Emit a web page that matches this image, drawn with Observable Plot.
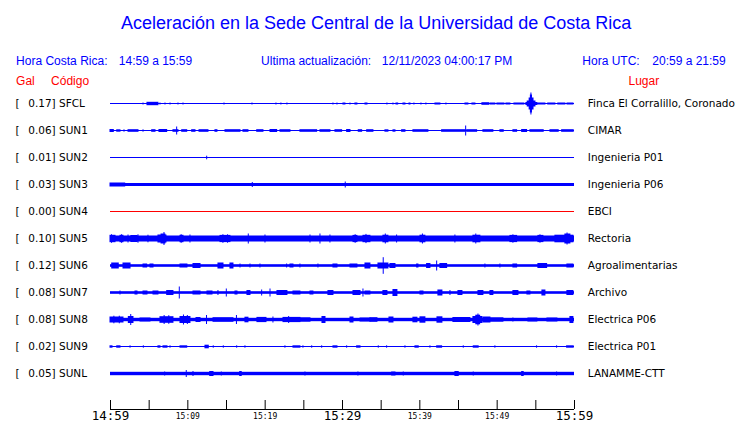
<!DOCTYPE html>
<html><head><meta charset="utf-8">
<script src="https://cdn.jsdelivr.net/npm/d3@7"></script>
<script src="https://cdn.jsdelivr.net/npm/@observablehq/plot@0.6"></script>
<style>body{margin:0;background:#fff} #chart svg{display:block}</style>
</head><body><div id="chart"></div>
<script>
// ---- header texts ----
const titleText = "Aceleración en la Sede Central de la Universidad de Costa Rica";
const localLabel = "Hora Costa Rica:";
const localRange = "14:59 a 15:59";
const updateLabel = "Ultima actualización:";
const updateValue = "12/11/2023 04:00:17 PM";
const utcLabel = "Hora UTC:";
const utcRange = "20:59 a 21:59";
const headGal = "Gal", headCode = "Código", headPlace = "Lugar";

// ---- stations ----
const stations = ["SFCL","SUN1","SUN2","SUN3","SUN4","SUN5","SUN6","SUN7","SUN8","SUN9","SUNL"];
const peakGal  = [0.17, 0.06, 0.01, 0.03, 0.00, 0.10, 0.12, 0.08, 0.08, 0.02, 0.05];
const places = ["Finca El Corralillo, Coronado","CIMAR","Ingenieria P01","Ingenieria P06","EBCI",
  "Rectoria","Agroalimentarias","Archivo","Electrica P06","Electrica P01","LANAMME-CTT"];
const offline = ["SUN4"];
// continuous background noise half-amplitude (amplitude units)
const noiseLevel = [0, 0, 0, 1.5, 0, 3, 1.3, 1.3, 1.7, 0, 1.7];

// ---- time axis (minutes after 14:59) ----
const timeSpan = [0, 60];
const tickMinutes = [0,5,10,15,20,25,30,35,40,45,50,55,60];
const majorTicks = [0, 30, 60];
const majorLabels = ["14:59","15:29","15:59"];
const minorTicks = [10, 20, 40, 50];
const minorLabels = ["15:09","15:19","15:39","15:49"];

// ---- bursts: [minute, amp] or [startMinute, endMinute, amp] ----
const burstsSFCL = [[4.27,1],[4.78,6.2,1.7],[6.46,1],[7.11,1],[7.76,1],[8.79,1],[9.44,1],[14.74,1],[18.36,1],
  [21.46,1],[22.1,1],[22.88,1],[28.83,1],[29.35,1],[30.12,30.38,1],[31.03,1],[31.67,31.93,1],[32.97,33.23,1],
  [35.81,1],[36.59,1],[36.98,37.2,1],[37.88,38.14,1],[38.66,38.79,1],[39.3,1],[40.21,1],[40.85,1],[42.02,42.66,1],
  [43.44,1],[45.9,46.28,1],[46.8,47.19,1],[48.09,49.0,1.3],[49.2,49.77,1],[50.03,50.94,1],[51.2,51.71,1],
  [52.23,53.52,1],[53.78,55.2,1.5],[53.95,54.95,3],[54.2,54.7,6],[54.36,54.5,9],[54.43,11],
  [55.3,56.24,1],[56.6,57.53,1],[57.9,58.82,1],[59.1,59.86,1]];
const burstsSUN1 = [[0,0.43,1.5],[0.87,1.29,1.2],[1.81,1.2],[2.33,3.62,1.3],[4.27,1.2],[5.39,5.82,1.3],[6.33,7.33,1.5],
  [8.14,8.79,1.3],[8.62,4],[9.27,9.92,1.3],[10.56,10.99,1.3],[11.51,12.67,1.3],[13.57,13.83,1.3],[14.87,16.81,1.3],
  [17.19,17.84,1.3],[18.97,19.78,1.3],[20.69,21.55,1.5],[21.98,23.27,1.3],[24.56,26.72,1.3],[27.15,28.44,1.3],
  [29.09,29.95,1.3],[30.6,31.03,1.5],[32.1,32.54,1.3],[33.19,34.0,1.3],[35.55,35.94,1.2],[36.59,36.85,1.2],
  [37.71,38.14,1.3],[39.17,41.11,1.3],[42.88,45.9,1.3],[45.99,5],[46.12,47.41,1.3],[48.22,49.51,1.3],
  [50.42,50.85,1.3],[52.1,52.58,1.3],[53.23,53.87,1.5],[54.3,56.02,1.3],[56.89,57.96,1.3],[58.4,59.9,1.3]];
const burstsSUN2 = [[12.5,1.8]];
const burstsSUN3 = [[0,1.9,2],[18.4,2.5],[30.42,3]];
const burstsSUN4 = [];
const burstsSUN5 = [[0,0.65,3.7],[0.2,4.3],[1.29,1.68,3.7],[1.5,4.3],[2.33,4],[2.7,3.5,3.5],[3.62,4.2],[4.91,3.8],
  [6.2,7.24,4],[6.6,7.1,5],[6.98,6.5],[9.05,9.44,3.7],[9.2,4.3],[10.34,4],[14.22,15.51,3.6],[14.6,4.3],[15.2,4.2],
  [17.88,5],[20.04,4],[25.86,4],[27.15,5],[28.44,4],[31.42,31.93,3.6],[31.7,4.3],[32.71,33.61,3.7],[33.1,4.6],
  [35.29,35.94,3.8],[35.6,5],[37.06,4],[40.08,40.72,3.8],[40.4,5],[44.6,4],[46.93,47.83,3.8],[47.3,5],
  [51.71,52.58,3.6],[52.1,4.2],[55.33,55.98,3.6],[55.6,4.2],[57.53,59.86,3.8],[58.82,59.47,5],[59.1,6]];
const burstsSUN6 = [[0.22,1.07,3],[1.68,2.59,3],[4.27,4.74,2],[5.17,5.56,2],[9.05,9.95,2],[10.73,11.64,2.5],
  [13.96,14.61,3],[15.51,15.9,3],[16.81,2],[18.1,2],[19.39,2],[22.84,2],[23.27,23.66,2],[24.56,2],[26.89,2],
  [28.83,29.35,2],[31.03,31.93,2],[32.97,33.61,3],[34.65,35.94,3],[35.33,8.3],[36.2,36.85,2.5],[39.65,39.82,2],
  [40.94,41.37,2.5],[42.24,5],[42.66,43.53,2.5],[48.48,2],[50.42,2],[52.1,52.58,2],[55.33,56.46,2.5],[59.08,59.86,2]];
const burstsSUN7 = [[1.29,2],[3.23,3.49,2],[4.27,4.78,2],[5.56,6.2,2],[7.33,8.14,2.5],[8.96,6],[10.73,11.64,2],
  [12.54,13.19,2],[13.96,2.5],[15.04,4],[16.16,16.42,2],[17.71,18.1,2.5],[19.61,3],[20.69,4],[21.59,22.88,2.5],
  [23.66,24.56,2],[25.86,26.24,2],[28.18,28.83,2.5],[31.42,32.33,2.5],[32.71,4],[32.97,33.61,2],[35.29,35.81,2.5],
  [36.59,37.1,3.5],[40.08,40.47,2],[42.4,42.92,3],[43.96,2.5],[44.99,45.51,2.5],[47.58,48.22,2.5],[49.13,49.51,2.5],
  [52.1,52.75,2.5],[53.91,54.3,2],[55.85,56.24,3],[59.08,59.86,2.5]];
const burstsSUN8 = [[0,1.68,3],[0.5,3.8],[1.2,3.8],[2.37,2.97,3.5],[2.68,5.5],[3.88,5.17,2],[6.46,8.14,3.3],[7.0,4.5],
  [7.6,4.3],[9.05,10.34,3.5],[9.5,5],[10.0,4.5],[11.12,11.64,2.5],[12.48,4.5],[13.32,15.9,2.3],[16.35,4.5],
  [17.45,17.84,2.8],[19.0,20.17,2.6],[21.07,3],[22.37,24.56,2.6],[23.1,3.5],[24.56,25.86,2.2],[27.41,27.8,3.5],
  [31.03,31.42,3],[32.33,33.61,2],[33.61,34.52,2.3],[36.07,36.59,3],[39.17,39.69,2.8],[40.08,40.72,3.2],
  [42.28,42.92,3.2],[44.34,46.54,2.5],[46.93,48.09,3.5],[47.3,47.8,4.8],[47.58,6],[48.22,49.13,3],[49.13,50.81,2.2],
  [52.1,2],[54.04,55.2,2],[56.5,57.79,2],[59.47,59.86,3.5]];
const burstsSUN9 = [[0,0.26,1.2],[0.87,1.29,1.2],[2.59,1.2],[4.31,1.2],[6.2,6.46,1.2],[6.85,7.37,1.2],[7.76,1.2],
  [9.05,9.92,1.2],[12.28,12.71,1.8],[13.35,1.2],[14.65,1.2],[16.38,1.2],[17.45,1.2],[22.62,1.2],[23.66,24.56,1.2],
  [24.95,1.2],[26.08,1.2],[27.37,1.2],[28.83,29.35,1.2],[30.6,1.2],[31.89,32.33,1.2],[34.69,1.2],[35.77,1.2],
  [38.14,1.2],[39.43,39.86,1.2],[41.37,1.2],[42.24,42.88,1.2],[45.68,1.2],[46.97,47.61,1.2],[49.77,1.2],
  [55.16,1.2],[57.75,1.2],[59.04,59.9,1.2]];
const burstsSUNL = [[7.07,2],[9.86,3.5],[10.73,2.5],[12.89,13.32,2.5],[14.39,2],[16.77,16.97,2.5],[25.21,2],
  [32.06,2],[36.42,36.85,2],[37.92,2],[44.6,45.03,2.5],[46.97,2],[53.23,53.43,2.5],[57.75,2]];
const burstLists = [burstsSFCL,burstsSUN1,burstsSUN2,burstsSUN3,burstsSUN4,burstsSUN5,
  burstsSUN6,burstsSUN7,burstsSUN8,burstsSUN9,burstsSUNL];

// ---- tables built from the arrays ----
const rows = stations.map((code, row) => ({row, code, gal: peakGal[row], place: places[row],
  noise: noiseLevel[row], off: offline.includes(code)}));
const bursts = [];
burstLists.forEach((list, row) => list.forEach(b => {
  const [m1, m2, amp] = b.length === 2 ? [b[0], b[0], b[1]] : b;
  bursts.push({row, m1, m2, amp});
}));
const noiseRows = rows.filter(d => d.noise > 0).map(d => ({row: d.row, m1: timeSpan[0], m2: timeSpan[1], amp: d.noise}));

const ampToRow = 1 / 27;
const yDomain = [-13 / 27, 306 / 27];
const blue = "#0000ff", red = "#ff0000";
const sans = "Liberation Sans, Arial, sans-serif";
const dv = "DejaVu Sans, sans-serif";
const mono = "DejaVu Sans Mono, monospace";

const head = (txt, opts) => Plot.text([txt], {text: d => d, frameAnchor: "top-left", textAnchor: "start",
  lineAnchor: "middle", fontSize: 12, fontFamily: sans, fill: blue, ...opts});

const chart = Plot.plot({
  width: 740, height: 423,
  marginTop: 90, marginBottom: 14, marginLeft: 110, marginRight: 166,
  x: {domain: timeSpan, axis: null},
  y: {domain: yDomain, reverse: true, axis: null},
  style: {background: "white"},
  marks: [
    // header
    head(titleText, {dx: 265.6, dy: -67, textAnchor: "middle", fontSize: 18}),
    head(localLabel, {dx: -94.4, dy: -29}),
    head(localRange, {dx: 8.3, dy: -29}),
    head(updateLabel, {dx: 150.6, dy: -29}),
    head(updateValue, {dx: 271.3, dy: -29}),
    head(utcLabel, {dx: 471.8, dy: -29}),
    head(utcRange, {dx: 541.8, dy: -29}),
    head(headGal, {dx: -94.4, dy: -9.5, fill: red}),
    head(headCode, {dx: -59.4, dy: -9.5, fill: red}),
    head(headPlace, {dx: 518, dy: -9.5, fill: red}),
    // traces
    Plot.ruleY(rows.filter(d => !d.off), {y: "row", stroke: blue, strokeWidth: 1}),
    Plot.ruleY(rows.filter(d => d.off), {y: "row", stroke: red, strokeWidth: 1}),
    Plot.rect(noiseRows, {x1: "m1", x2: "m2", y1: d => d.row - d.amp * ampToRow, y2: d => d.row + d.amp * ampToRow,
      fill: blue, dy: 0.5}),
    Plot.rect(bursts, {x1: "m1", x2: "m2", y1: d => d.row - d.amp * ampToRow, y2: d => d.row + d.amp * ampToRow,
      fill: blue, dy: 0.5, insetLeft: -0.5, insetRight: -0.5}),
    // station labels
    Plot.text(rows, {y: "row", text: () => "[", frameAnchor: "left", dx: -95, textAnchor: "start",
      lineAnchor: "middle", fontSize: 10.5, fontFamily: dv, fill: "black"}),
    Plot.text(rows, {y: "row", text: d => `${d.gal.toFixed(2)}] ${d.code}`, frameAnchor: "left", dx: -82.3,
      textAnchor: "start", lineAnchor: "middle", fontSize: 10.5, fontFamily: dv, fill: "black"}),
    Plot.text(rows, {y: "row", text: "place", frameAnchor: "right", dx: 13.3, textAnchor: "start",
      lineAnchor: "middle", fontSize: 10.5, fontFamily: dv, fill: "black"}),
    // time axis
    Plot.ruleY([yDomain[1]], {y: d => d, stroke: "black"}),
    Plot.tickX(tickMinutes, {x: d => d, insetTop: 310, stroke: "black"}),
    Plot.text(majorTicks, {x: d => d, text: (d, i) => majorLabels[i], frameAnchor: "bottom", dy: 6.5,
      lineAnchor: "middle", fontSize: 12.5, fontFamily: mono, fill: "black"}),
    Plot.text(minorTicks, {x: d => d, text: (d, i) => minorLabels[i], frameAnchor: "bottom", dy: 7,
      lineAnchor: "middle", fontSize: 8, fontFamily: mono, fill: "black"})
  ]
});
document.getElementById("chart").append(chart);
</script>
</body></html>
